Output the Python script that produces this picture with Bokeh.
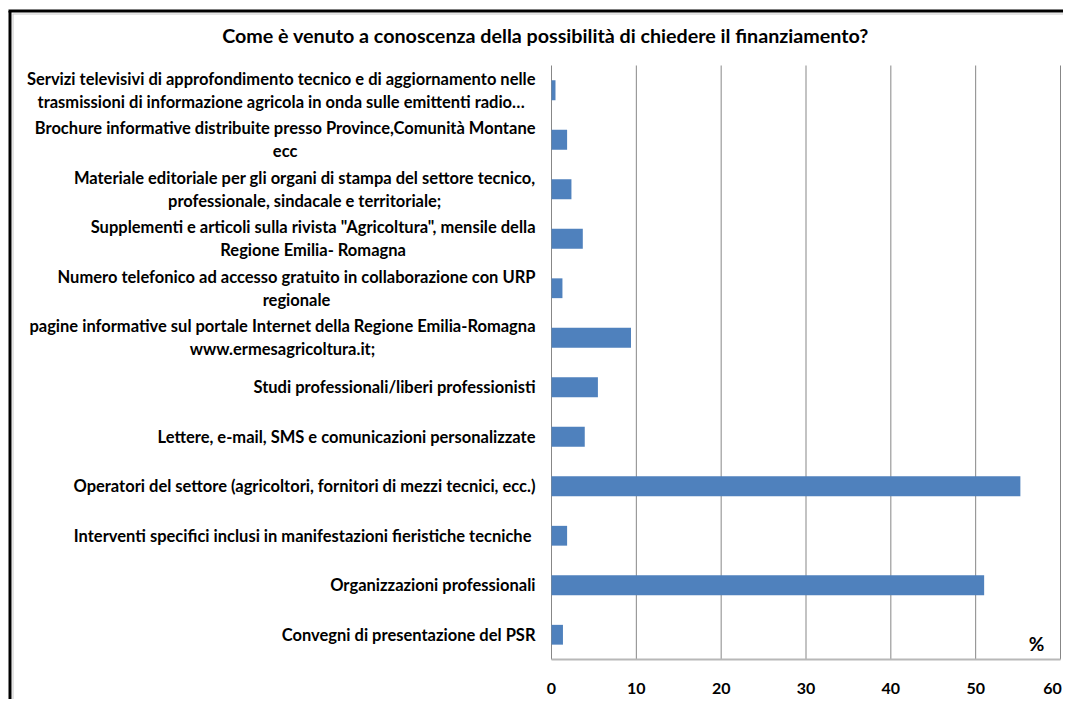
from bokeh.plotting import figure
from bokeh.models import Range1d, ColumnDataSource
from bokeh.embed import file_html
from bokeh.resources import INLINE

title_text = "Come è venuto a conoscenza della possibilità di chiedere il finanziamento?"

categories = [
    "Convegni di presentazione del PSR",
    "Organizzazioni professionali",
    "Interventi specifici inclusi in  manifestazioni fieristiche tecniche",
    "Operatori del settore (agricoltori, fornitori di mezzi tecnici, ecc.)",
    "Lettere, e-mail, SMS e comunicazioni personalizzate",
    "Studi professionali/liberi professionisti",
    "pagine informative sul portale Internet della Regione Emilia-Romagna\nwww.ermesagricoltura.it;",
    "Numero telefonico ad accesso gratuito in collaborazione con URP\nregionale",
    "Supplementi e articoli sulla rivista \"Agricoltura\", mensile della\nRegione Emilia- Romagna",
    "Materiale editoriale per gli organi di stampa del settore tecnico,\nprofessionale, sindacale e territoriale;",
    "Brochure informative distribuite presso Province,Comunità Montane\necc",
    "Servizi televisivi di approfondimento tecnico e di aggiornamento nelle\ntrasmissioni di informazione agricola in onda sulle emittenti radio…",
]
values = [1.35, 51.0, 1.84, 55.27, 3.92, 5.47, 9.37, 1.29, 3.69, 2.35, 1.84, 0.47]
x_ticks = [0, 10, 20, 30, 40, 50, 60]
x_tick_labels = [str(t) for t in x_ticks]
unit_label = "%"

# ---- layout (pixels within the canvas) ----
W, H = 1063, 699
PLOT_L, PLOT_R = 551, 1060      # canvas x of value 0 and value 60
PLOT_T, PLOT_B = 65, 659        # canvas y of top / bottom of plot area
XMIN, XMAX = x_ticks[0], x_ticks[-1]
n = len(categories)
px_x = (PLOT_R - PLOT_L) / (XMAX - XMIN)
px_y = (PLOT_B - PLOT_T) / n
x_range = Range1d(XMIN - PLOT_L / px_x, XMAX + (W - PLOT_R) / px_x)
y_range = Range1d(-0.5 - (H - PLOT_B) / px_y, n - 0.5 + PLOT_T / px_y)


def cx(px):  # canvas x pixel -> data x
    return x_range.start + px / px_x


def cy(py):  # canvas y pixel (from top) -> data y
    return y_range.end - py / px_y


FONT = "Lato"
BAR = "#4F81BD"

p = figure(width=W, height=H, output_backend="svg", toolbar_location=None,
           x_range=x_range, y_range=y_range,
           min_border=0, min_border_left=0, min_border_right=0,
           min_border_top=0, min_border_bottom=0)
p.axis.visible = False
p.grid.visible = False
p.outline_line_color = None
p.background_fill_color = "white"
p.border_fill_color = "white"

ys = list(range(n))
y_bot, y_top = -0.5, n - 0.5

# gridlines
p.segment(x0=x_ticks, y0=[y_bot] * len(x_ticks), x1=x_ticks, y1=[y_top] * len(x_ticks),
          line_color="#878787", line_width=1)
# x axis line
p.segment(x0=[XMIN], y0=[y_bot], x1=[XMAX], y1=[y_bot], line_color="#b8b8b8", line_width=2)

# bars
src = ColumnDataSource(dict(y=ys, v=values, label=categories))
p.hbar(y="y", left=0, right="v", height=0.4, source=src, fill_color=BAR, line_color=None)

# category labels
p.text(x=0, y="y", text="label", source=src, x_offset=-16,
       anchor="center_right", text_align="center", text_baseline="middle",
       text_font={"value": FONT}, text_font_style="bold", text_font_size="16.5px",
       text_line_height=1.15, text_color="black")

# x tick labels (last one nudged inward so it stays on the canvas)
tick_offsets = [0] * (len(x_ticks) - 1) + [-8]
p.text(x=x_ticks, y=[y_bot] * len(x_ticks), text=x_tick_labels, x_offset=tick_offsets,
       y_offset=29, text_align="center", text_baseline="middle",
       text_font={"value": FONT}, text_font_style="bold", text_font_size="16px",
       text_color="black")

# unit label
p.text(x=[XMAX], y=[y_bot], text=[unit_label], x_offset=-24, y_offset=-16,
       text_align="center", text_baseline="middle",
       text_font={"value": FONT}, text_font_style="bold", text_font_size="19px",
       text_color="black")

# title
p.text(x=[XMIN], y=[y_top], text=[title_text], x_offset=-6, y_offset=-(PLOT_T - 35),
       text_align="center", text_baseline="middle",
       text_font={"value": FONT}, text_font_style="bold", text_font_size="19.7px",
       text_color="black")

# chart border (left and top edges) with faint inner line
p.segment(x0=[cx(9.5), cx(8)], y0=[y_range.start, cy(10.5)],
          x1=[cx(9.5), x_range.end], y1=[cy(10.5), cy(10.5)],
          line_color="black", line_width=3)
p.segment(x0=[cx(12.5), cx(12)], y0=[y_range.start, cy(13.5)],
          x1=[cx(12.5), x_range.end], y1=[cy(13.5), cy(13.5)],
          line_color="#c8c8c8", line_width=1)

open("out.html", "w").write(file_html(p, INLINE))
